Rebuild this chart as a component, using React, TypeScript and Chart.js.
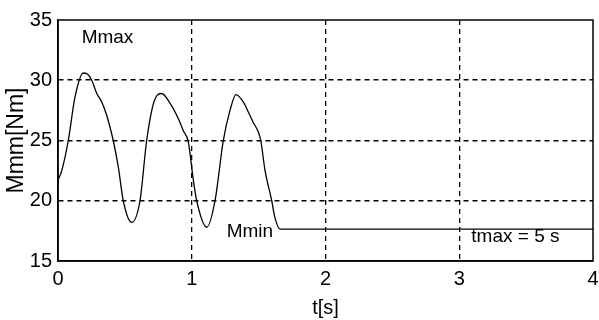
import React, { useEffect, useRef } from "react";
import { Chart, registerables } from "chart.js";

Chart.register(...registerables);

// time [s]
const timeS = [
  0, 0.028, 0.077, 0.127, 0.189, 0.215, 0.252, 0.29, 0.327, 0.364, 0.389, 0.413,
  0.451, 0.488, 0.551, 0.613, 0.663, 0.72, 0.775, 0.837, 0.9, 0.937, 0.974,
  1.012, 1.037, 1.112, 1.174, 1.236, 1.286, 1.331, 1.385, 1.43, 1.46, 1.498,
  1.516, 1.548, 1.598, 1.622, 1.66, 4.0,
];
// torque Mmm [Nm]
const torqueNm = [
  21.7, 22.5, 25.0, 28.6, 30.6, 30.55, 30.0, 28.9, 28.2, 27.1, 26.1, 25.0,
  22.8, 20.0, 18.2, 20.0, 25.0, 28.3, 28.9, 28.1, 26.8, 25.8, 24.9,
  21.7, 20.0, 17.8, 20.0, 25.0, 27.5, 28.8, 28.2, 27.2, 26.5, 25.7,
  25.0, 22.5, 20.0, 18.6, 17.65, 17.65,
];

const xTicks = [0, 1, 2, 3, 4];
const yTicks = [15, 20, 25, 30, 35];

const noteTexts = ["Mmax", "Mmin", "tmax = 5 s"];
const noteT = [0.37, 1.435, 3.42];
const noteM = [33.5, 17.4, 17.0];

const FONT = '"Liberation Sans", Arial, sans-serif';

export default function App() {
  const ref = useRef<HTMLCanvasElement | null>(null);

  useEffect(() => {
    document.body.style.margin = "0";
    const canvas = ref.current;
    if (!canvas) return;

    const frame = {
      id: "frame",
      afterDraw(chart: any) {
        const { ctx, chartArea: a } = chart;
        ctx.save();
        ctx.strokeStyle = "#000";
        ctx.lineWidth = 1.5;
        ctx.strokeRect(a.left, a.top, a.right - a.left, a.bottom - a.top);
        ctx.restore();
      },
    };

    const notes = {
      id: "notes",
      afterDatasetsDraw(chart: any) {
        const { ctx, scales } = chart;
        ctx.save();
        ctx.fillStyle = "#000";
        ctx.font = `19px ${FONT}`;
        ctx.textAlign = "center";
        ctx.textBaseline = "middle";
        noteTexts.forEach((t, i) => {
          ctx.fillText(t, scales.x.getPixelForValue(noteT[i]), scales.y.getPixelForValue(noteM[i]));
        });
        ctx.restore();
      },
    };

    const gridColor = (ctx: any, lo: number, hi: number) => {
      const v = ctx.tick ? ctx.tick.value : null;
      return v === lo || v === hi ? "rgba(0,0,0,0)" : "#000";
    };

    const chart = new Chart(canvas, {
      type: "line",
      data: {
        datasets: [
          {
            data: timeS.map((t, i) => ({ x: t, y: torqueNm[i] })),
            borderColor: "#000",
            borderWidth: 1.3,
            pointRadius: 0,
            cubicInterpolationMode: "monotone",
            fill: false,
          },
        ],
      },
      options: {
        responsive: false,
        animation: false,
        devicePixelRatio: 1,
        layout: { padding: { top: 20, right: 6, left: 0, bottom: 0 } },
        plugins: { legend: { display: false }, tooltip: { enabled: false } },
        scales: {
          x: {
            type: "linear",
            min: 0,
            max: 4,
            afterBuildTicks: (s: any) => {
              s.ticks = xTicks.map((v) => ({ value: v }));
            },
            afterFit: (s: any) => {
              s.height = 59;
              s.paddingLeft = 0;
              s.paddingRight = 0;
            },
            ticks: {
              color: "#000",
              font: { family: FONT, size: 20 },
              padding: 6,
              maxRotation: 0,
            },
            grid: {
              drawTicks: false,
              color: (c: any) => gridColor(c, 0, 4),
              lineWidth: 1.3,
            },
            border: { display: true, color: "#000", width: 1.5, dash: [5, 4] },
            title: {
              display: true,
              text: "t[s]",
              color: "#000",
              font: { family: FONT, size: 20, lineHeight: 1.2 },
              padding: { top: 0, bottom: 0 },
            },
          },
          y: {
            type: "linear",
            min: 15,
            max: 35,
            afterBuildTicks: (s: any) => {
              s.ticks = yTicks.map((v) => ({ value: v }));
            },
            afterFit: (s: any) => {
              s.width = 58;
            },
            ticks: {
              color: "#000",
              font: { family: FONT, size: 20 },
              padding: 6,
            },
            grid: {
              drawTicks: false,
              color: (c: any) => gridColor(c, 15, 35),
              lineWidth: 1.6,
            },
            border: { display: true, color: "#000", width: 1.5, dash: [5, 4] },
            title: {
              display: true,
              text: "Mmm[Nm]",
              color: "#000",
              font: { family: FONT, size: 23, lineHeight: 1.2 },
              padding: { top: 3, bottom: 0 },
            },
          },
        },
      },
      plugins: [frame, notes],
    });

    return () => chart.destroy();
  }, []);

  return <canvas ref={ref} width={599} height={320} style={{ display: "block" }} />;
}
